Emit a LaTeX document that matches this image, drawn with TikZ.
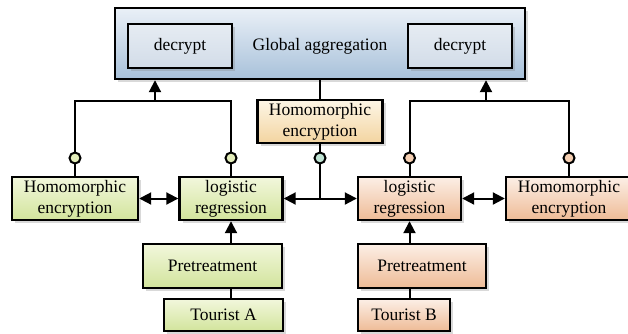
\documentclass[tikz,border=0pt]{standalone}
\usepackage{fontspec}
\setmainfont{Liberation Serif}
\newfontfamily\tnr{Liberation Serif}
\usetikzlibrary{arrows.meta,shadows}
\definecolor{gTop}{HTML}{F2F7DC}
\definecolor{gBot}{HTML}{D2E49C}
\definecolor{sTop}{HTML}{FCEFE6}
\definecolor{sBot}{HTML}{EEBB96}
\definecolor{oTop}{HTML}{FDF6E6}
\definecolor{oBot}{HTML}{F3D4A0}
\definecolor{bTop}{HTML}{EAF0F7}
\definecolor{bBot}{HTML}{A8C1DA}
\definecolor{dTop}{HTML}{E6ECF3}
\definecolor{dBot}{HTML}{D2DCE8}
\definecolor{cGreen}{HTML}{E3EDBA}
\definecolor{cTeal}{HTML}{BFE3D3}
\definecolor{cSalmon}{HTML}{F5CFB2}
\begin{document}
\begin{tikzpicture}[x=1pt,y=-1pt,
  txt/.style={font=\tnr\fontsize{17.5}{21}\selectfont},
  box/.style={txt,draw=black,line width=2.4pt,minimum height=43pt,align=center,inner sep=0pt,
    drop shadow={shadow xshift=3pt,shadow yshift=-3pt,opacity=0.3}},
  gbox/.style={box,top color=gTop,bottom color=gBot},
  sbox/.style={box,top color=sTop,bottom color=sBot},
  obox/.style={box,top color=oTop,bottom color=oBot},
  dbox/.style={box,top color=dTop,bottom color=dBot,minimum width=104pt,minimum height=44pt},
  conn/.style={draw=black,line width=2pt},
  tip/.style={-{Triangle[length=12pt,width=12pt]}},
  dtip/.style={{Triangle[length=12pt,width=12pt]}-{Triangle[length=12pt,width=12pt]}},
  dot/.style={circle,draw=black,line width=2pt,minimum size=11pt,inner sep=0pt}]
\useasboundingbox (0,0) rectangle (628,333);
% top
\node[box,top color=bTop,bottom color=bBot,minimum width=410pt,minimum height=71pt] (outer) at (320,43.5) {};
\node[dbox] (decL) at (180,46) {decrypt};
\node[dbox] (decR) at (460,46) {decrypt};
\node[txt] (ga) at (320,46) {Global aggregation};
% middle
\node[obox,minimum width=125pt] (homC) at (320,121.5) {Homomorphic\\encryption};
\node[gbox,minimum width=126pt] (homL) at (75,198.5) {Homomorphic\\encryption};
\node[gbox,minimum width=103pt] (logA) at (231,198.5) {logistic\\regression};
\node[sbox,minimum width=103pt] (logB) at (409.5,198.5) {logistic\\regression};
\node[sbox,minimum width=126pt] (homR) at (569,198.5) {Homomorphic\\encryption};
% bottom
\node[gbox,minimum width=139pt,minimum height=44pt] (preA) at (212.5,266) {Pretreatment};
\node[gbox,minimum width=119pt,minimum height=32pt] (touA) at (223.5,315) {Tourist A};
\node[sbox,minimum width=128pt,minimum height=44pt] (preB) at (422,266) {Pretreatment};
\node[sbox,minimum width=92pt,minimum height=32pt] (touB) at (404,315) {Tourist B};
% helper coordinates
\coordinate (yt) at (0,101);
\coordinate (yc) at (0,158);
\coordinate (jL) at (155,101);
\coordinate (jR) at (486,101);
\coordinate (jC) at (320,198.5);
% left bracket
\draw[conn] (homL.north) -- (homL.north |- yt) -- (logA.north |- yt) -- (logA.north);
\draw[conn,tip] (jL) -- (jL |- outer.south);
% right bracket
\draw[conn] (logB.north) -- (logB.north |- yt) -- (homR.north |- yt) -- (homR.north);
\draw[conn,tip] (jR) -- (jR |- outer.south);
% center
\draw[conn] (outer.south) -- (homC.north);
\draw[conn] (homC.south) -- (jC);
\draw[conn,tip] (jC) -- (logA.east);
\draw[conn,tip] (jC) -- (logB.west);
% double arrows
\draw[conn,dtip] (homL.east) -- (logA.west);
\draw[conn,dtip] (logB.east) -- (homR.west);
% bottom links
\draw[conn,tip] (logA.south |- preA.north) -- (logA.south);
\draw[conn] (logA.south |- touA.north) -- (logA.south |- preA.south);
\draw[conn,tip] (logB.south |- preB.north) -- (logB.south);
\draw[conn] (logB.south |- touB.north) -- (logB.south |- preB.south);
% circles
\node[dot,fill=cGreen] (cL1) at (homL.north |- yc) {};
\node[dot,fill=cGreen] (cL2) at (logA.north |- yc) {};
\node[dot,fill=cTeal] (cC) at (homC.south |- yc) {};
\node[dot,fill=cSalmon] (cR1) at (logB.north |- yc) {};
\node[dot,fill=cSalmon] (cR2) at (homR.north |- yc) {};
\end{tikzpicture}
\end{document}
